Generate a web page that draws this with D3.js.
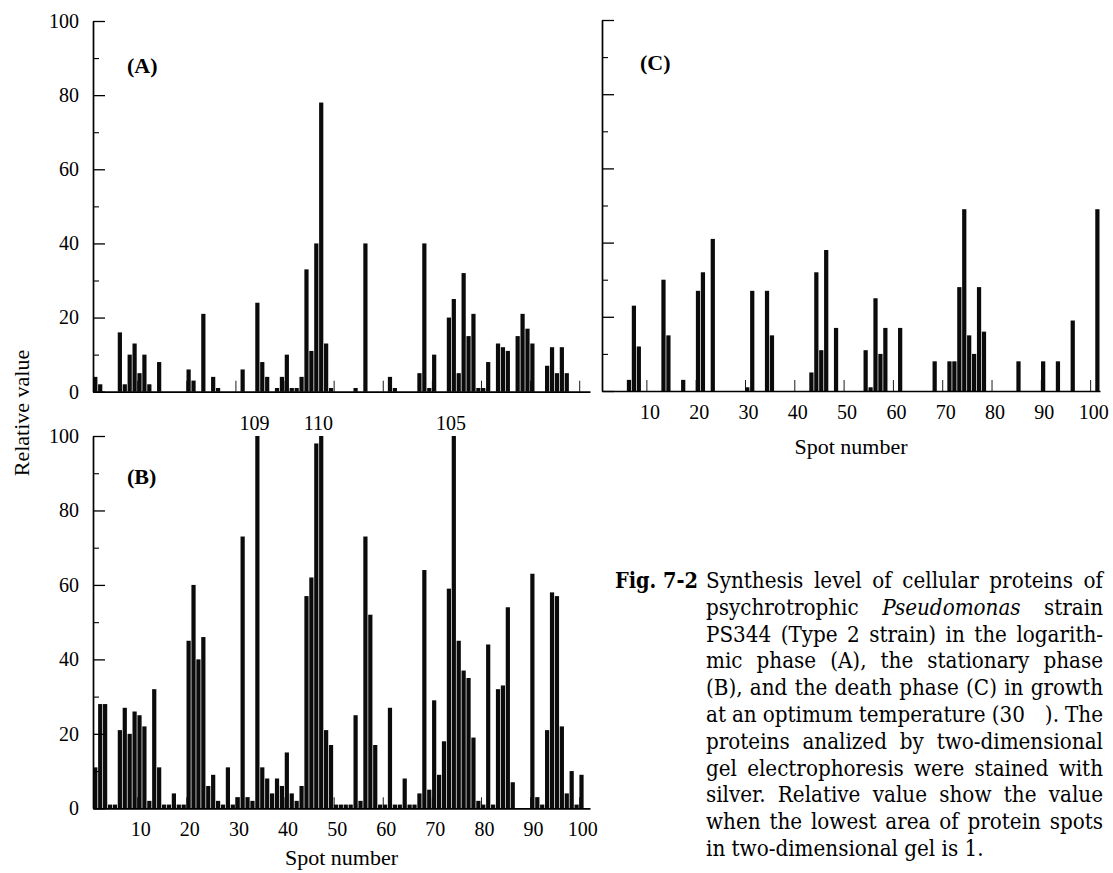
<!DOCTYPE html>
<html><head><meta charset="utf-8">
<script src="https://cdn.jsdelivr.net/npm/d3@7"></script>
<style>body{margin:0;background:#fff}</style>
</head><body>
<svg id="c" width="1113" height="873" xmlns="http://www.w3.org/2000/svg"></svg>
<script>
// ---------- data ----------
const spotTicks = [10, 20, 30, 40, 50, 60, 70, 80, 90, 100];
const yMajorTicks = [0, 20, 40, 60, 80, 100];
const yMinorTicks = [10, 30, 50, 70, 90];

// relative values, spots 1..100 (logarithmic phase)
const valuesA = [
  4, 2, 0, 0, 0, 16, 2, 10, 13, 5,
  10, 2, 0, 8, 0, 0, 0, 0, 0, 6,
  3, 0, 21, 0, 4, 1, 0, 0, 0, 0,
  6, 0, 0, 24, 8, 4, 0, 1, 4, 10,
  1, 1, 4, 33, 11, 40, 78, 13, 1, 0,
  0, 0, 0, 1, 0, 40, 0, 0, 0, 0,
  4, 1, 0, 0, 0, 0, 5, 40, 1, 10,
  0, 0, 20, 25, 5, 32, 15, 21, 1, 1,
  8, 0, 13, 12, 11, 0, 15, 21, 17, 13,
  0, 0, 7, 12, 5, 12, 5, 0, 0, 0
];
// stationary phase
const valuesB = [
  11, 28, 28, 1, 1, 21, 27, 20, 26, 25,
  22, 2, 32, 11, 1, 1, 4, 1, 1, 45,
  60, 40, 46, 6, 9, 2, 1, 11, 1, 3,
  73, 3, 2, 100, 11, 8, 4, 8, 6, 15,
  4, 2, 6, 57, 62, 98, 100, 21, 17, 1,
  1, 1, 1, 25, 2, 73, 52, 17, 1, 1,
  27, 1, 1, 8, 1, 1, 4, 64, 5, 29,
  9, 18, 59, 100, 45, 37, 35, 19, 2, 1,
  44, 1, 32, 33, 54, 7, 0, 0, 0, 63,
  3, 1, 21, 58, 57, 22, 4, 10, 1, 9
];
// death phase, spots 1..101
const valuesC = [
  0, 0, 0, 0, 0, 3, 23, 12, 0, 0,
  0, 0, 30, 15, 0, 0, 3, 0, 0, 27,
  32, 0, 41, 0, 0, 0, 0, 0, 0, 1,
  27, 0, 0, 27, 15, 0, 0, 0, 0, 0,
  0, 0, 5, 32, 11, 38, 0, 17, 0, 0,
  0, 0, 0, 11, 1, 25, 10, 17, 0, 0,
  17, 0, 0, 0, 0, 0, 0, 8, 0, 0,
  8, 8, 28, 49, 15, 10, 28, 16, 0, 0,
  0, 0, 0, 0, 8, 0, 0, 0, 0, 8,
  0, 0, 8, 0, 0, 19, 0, 0, 0, 0,
  49
];
const peakSpotsB = [34, 47, 74];
const peakLabelsB = ["109", "110", "105"];

const captionHead = "Fig. 7-2";
const captionLines = [
  "Synthesis level of cellular proteins of",
  "psychrotrophic _Pseudomonas_ strain",
  "PS344 (Type 2 strain) in the logarith-",
  "mic phase (A), the stationary phase",
  "(B), and the death phase (C) in growth",
  "at an optimum temperature (30\u2002\u2002). The",
  "proteins analized by two-dimensional",
  "gel electrophoresis were stained with",
  "silver. Relative value show the value",
  "when the lowest area of protein spots",
  "in two-dimensional gel is 1."
];

// ---------- drawing ----------
const svg = d3.select('#c');
const serif = '"Liberation Serif","Times New Roman",Times,serif';

function panel(o) {
  const g = svg.append('g');
  const x = d3.scaleLinear().domain([1, o.xEnd]).range([o.left, o.right]);
  const y = d3.scaleLinear().domain([0, 100]).range([o.base, o.top]);
  const step = x(2) - x(1);

  // inward x ticks (behind bars)
  const xa = g.append('g').attr('transform', `translate(0,${o.base})`)
    .call(d3.axisBottom(x).tickValues(spotTicks).tickSizeInner(-11).tickSizeOuter(0).tickPadding(14)
      .tickFormat(o.showX ? d3.format('d') : ''));
  xa.select('.domain').remove();
  xa.selectAll('.tick line').attr('stroke', '#000').attr('stroke-width', 0.9);
  xa.selectAll('text').attr('font-family', serif).attr('font-size', 20).attr('fill', '#000').attr('dx', 3);

  const data = o.values.map((v, i) => ({ spot: i + 1, v })).filter(d => d.v > 0);
  g.append('g').selectAll('rect').data(data).join('rect')
    .attr('x', d => x(d.spot) + 0.2)
    .attr('width', step - 0.7)
    .attr('y', d => y(d.v))
    .attr('height', d => y(0) - y(d.v))
    .attr('fill', '#0b0b0b');

  // baseline
  const xb = g.append('g').attr('transform', `translate(0,${o.base})`)
    .call(d3.axisBottom(x).tickValues([]).tickSizeOuter(0));
  xb.select('.domain').attr('stroke', '#000').attr('stroke-width', 1.7);

  // y axis
  const ya = g.append('g').attr('transform', `translate(${o.left},0)`)
    .call(d3.axisLeft(y).tickValues(yMajorTicks).tickSizeInner(-12).tickSizeOuter(0).tickPadding(14)
      .tickFormat(o.showY ? d3.format('d') : ''));
  ya.select('.domain').attr('stroke', '#000').attr('stroke-width', 1.7);
  ya.selectAll('.tick line').attr('stroke', '#000').attr('stroke-width', 1.3);
  ya.selectAll('text').attr('font-family', serif).attr('font-size', 20).attr('fill', '#000');
  const ym = g.append('g').attr('transform', `translate(${o.left},0)`)
    .call(d3.axisLeft(y).tickValues(yMinorTicks).tickSizeInner(-6).tickSizeOuter(0).tickFormat(''));
  ym.select('.domain').remove();
  ym.selectAll('.tick line').attr('stroke', '#000').attr('stroke-width', 1.1);

  // panel label
  g.append('text').attr('x', o.lx).attr('y', o.ly).text(o.label)
    .attr('font-family', serif).attr('font-weight', 'bold').attr('font-size', 22);

  if (o.showX) {
    g.append('text').attr('x', (o.left + o.right) / 2).attr('y', o.titleY)
      .attr('text-anchor', 'middle').attr('font-family', serif).attr('font-size', 22)
      .text('Spot number');
  }
  return { x, y, g, step };
}

panel({ values: valuesA, left: 93, right: 590, xEnd: 102.2, top: 21, base: 391.7,
  showY: true, showX: false, label: '(A)', lx: 127, ly: 73 });
const pB = panel({ values: valuesB, left: 93, right: 590, xEnd: 102.2, top: 436, base: 808.3,
  showY: true, showX: true, label: '(B)', lx: 127, ly: 484, titleY: 865 });
panel({ values: valuesC, left: 602, right: 1100, xEnd: 102, top: 20, base: 391,
  showY: false, showX: true, label: '(C)', lx: 640, ly: 70, titleY: 454 });

// peak labels (off-scale values) in B
pB.g.selectAll('text.peak').data(peakSpotsB).join('text')
  .attr('class', 'peak')
  .attr('x', d => pB.x(d) + pB.step / 2 - 3)
  .attr('y', 430)
  .attr('text-anchor', 'middle').attr('font-family', serif).attr('font-size', 20)
  .text((d, i) => peakLabelsB[i]);

// y axis title
svg.append('text').attr('transform', 'translate(29,413) rotate(-90)')
  .attr('text-anchor', 'middle').attr('font-family', serif).attr('font-size', 22)
  .text('Relative value');

// ---------- caption ----------
const capFont = '"DejaVu Serif Condensed","DejaVu Serif",serif';
const capLeft = 706, capRight = 1103, capBase0 = 588, capLH = 26.8;
const capW = capRight - capLeft;
const minGap = 6;
function capText(sel) {
  return sel.attr('font-family', capFont).style('font-stretch', 'condensed');
}
function measure(str, size, italic) {
  const t = capText(svg.append('text')).attr('font-size', size)
    .attr('font-style', italic ? 'italic' : 'normal').text(str);
  const w = t.node().getComputedTextLength();
  t.remove();
  return w;
}
// font size: last line ~295px wide, but every justified line must fit with a minimum gap
let capSize = 20 * 295 / measure(captionLines[captionLines.length - 1], 20, false);
captionLines.slice(0, -1).forEach(line => {
  const words = line.split(' ');
  const tot = d3.sum(words, w => measure(w.replace(/_/g, ''), 20, w.startsWith('_')));
  const s = 20 * (capW - (words.length - 1) * minGap) / tot;
  if (s < capSize) capSize = s;
});

const head = capText(svg.append('text')).attr('x', 615).attr('y', capBase0)
  .attr('font-weight', 'bold').attr('font-size', capSize)
  .text(captionHead);
const hw = head.node().getComputedTextLength();
if (hw > 83) head.attr('font-size', capSize * 83 / hw);

captionLines.forEach((line, li) => {
  const yy = capBase0 + li * capLH;
  const words = line.split(' ');
  const last = li === captionLines.length - 1;
  if (last) {
    capText(svg.append('text')).attr('x', capLeft).attr('y', yy)
      .attr('font-size', capSize).text(line);
    return;
  }
  const nodes = words.map(w => {
    const it = w.startsWith('_');
    return capText(svg.append('text')).attr('y', yy)
      .attr('font-size', capSize)
      .attr('font-style', it ? 'italic' : 'normal')
      .text(w.replace(/_/g, ''));
  });
  const widths = nodes.map(n => n.node().getComputedTextLength());
  const total = d3.sum(widths);
  const gap = (capW - total) / (words.length - 1);
  let cx = capLeft;
  nodes.forEach((n, i) => { n.attr('x', cx); cx += widths[i] + gap; });
});
</script>
</body></html>
